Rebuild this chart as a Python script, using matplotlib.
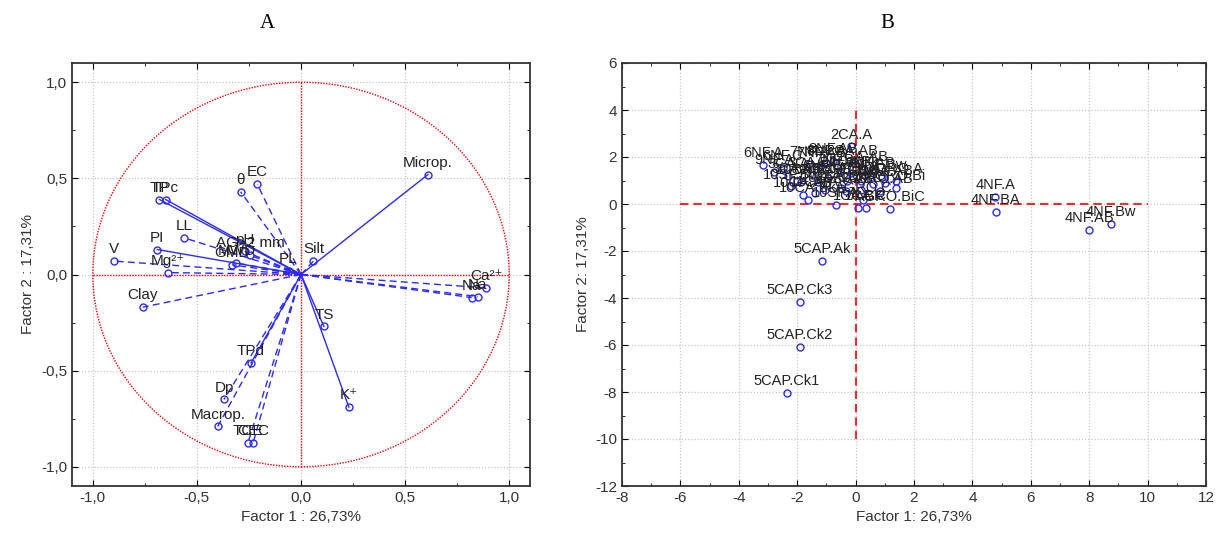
import matplotlib.pyplot as plt
from matplotlib.patches import Circle
from matplotlib.ticker import MultipleLocator, FuncFormatter

plt.rcParams['font.family'] = ['Liberation Sans', 'DejaVu Sans']
plt.rcParams['font.size'] = 11
plt.rcParams['axes.unicode_minus'] = False

# --- panel A: variable loadings on factor 1 / factor 2
var_names = ['Microp.', 'Ca²⁺', 'Na', 'Na', 'TS', 'K⁺', 'TPd', 'Dp', 'Macrop.',
             'TCE', 'CEC', 'PL', 'Silt', 'θ', 'EC', 'TP', 'TPc', 'LL', 'PI',
             'V', 'Mg²⁺', 'Clay', 'pH', 'AG>2 mm', 'GMD', 'MWD']
var_f1 = [0.61, 0.89, 0.82, 0.85, 0.11, 0.23, -0.24, -0.37, -0.40,
          -0.255, -0.23, -0.06, 0.06, -0.29, -0.21, -0.68, -0.65, -0.56, -0.69,
          -0.90, -0.64, -0.76, -0.27, -0.245, -0.33, -0.31]
var_f2 = [0.52, -0.07, -0.12, -0.115, -0.27, -0.69, -0.46, -0.65, -0.79,
          -0.875, -0.875, 0.02, 0.07, 0.43, 0.47, 0.39, 0.39, 0.19, 0.13,
          0.07, 0.01, -0.17, 0.12, 0.10, 0.05, 0.06]
solid_vars = {'Microp.', 'TS', 'K⁺', 'TPd', 'TP', 'TPc', 'PI', 'PL'}

# --- panel B: case scores
case_names = ['2CA.A', '2CA.AB', '6NF.A', '9NF.A', '7NF.A', '7NF.AB', '8NF.A', '8NF.AB',
              '1CA.AB', 'AGRO.A', 'AGRO.Bi', 'AGRO.BiC', '10CA.A', '10CA.AB', '10CA.Bk',
              '10SF.A', '10SF.AB', '1CA.A', '1CA.Bk', '1CA.C', 'AGRO.AB', 'AGRO.C',
              '3CA.A', '3CA.AB', '3CA.Bk', '6NF.AB', '6NF.Bw', '7NF.Bw', '8NF.Bw',
              '9NF.AB', '9NF.Bw', '10SF.Bw', '10SF.C', '2CA.Bk', '2CA.C', '3CA.C',
              '11CA.A', '11CA.AB', '11CA.Bk', '6NF.C',
              '5CAP.Ak', '5CAP.Ck3', '5CAP.Ck2', '5CAP.Ck1',
              '4NF.A', '4NF.BA', '4NF.AB', '4NF.Bw']
case_f1 = [-0.15, -0.10, -3.17, -2.80, -1.60, -1.19, -1.02, -0.78,
           0.24, 1.37, 1.37, 1.19, -1.88, -1.81, -1.64,
           -0.68, -0.34, 0.17, 0.07, 0.34, 0.85, 0.27,
           -2.30, -2.00, -1.50, -1.30, -0.95, -0.55, -0.30,
           0.50, 0.90, -2.20, -1.05, -0.50, 0.20, 0.60,
           -1.40, 1.00, -0.15, -2.50,
           -1.16, -1.91, -1.91, -2.35,
           4.78, 4.80, 8.00, 8.74]
case_f2 = [2.45, 1.74, 1.65, 1.36, 1.69, 1.65, 1.74, 1.82,
           1.48, 0.97, 0.68, -0.21, 0.93, 0.38, 0.17,
           -0.04, 0.55, 0.97, -0.17, -0.17, 0.55, 0.17,
           1.20, 1.00, 1.25, 0.95, 1.10, 1.35, 1.00,
           1.25, 1.15, 0.75, 0.60, 0.70, 0.60, 0.85,
           0.45, 0.90, 1.30, 1.55,
           -2.42, -4.15, -6.10, -8.05,
           0.30, -0.35, -1.10, -0.85]

blue = '#2a2aff'
grid_kw = dict(color='#c8c8c8', linestyle=(0, (1, 1.5)), linewidth=0.9)
comma = FuncFormatter(lambda v, p: f'{v:.1f}'.replace('.', ','))

fig = plt.figure(figsize=(12.18, 5.38), dpi=100)
axA = fig.add_axes([72 / 1218, 52 / 538, 458 / 1218, 423 / 538])
axB = fig.add_axes([622 / 1218, 52 / 538, 584 / 1218, 423 / 538])

for ax in (axA, axB):
    ax.grid(True, **grid_kw)
    ax.set_axisbelow(True)
    ax.tick_params(which='both', direction='in', top=True, right=True,
                   labelcolor='#333333', labelsize=11)
    ax.tick_params(which='major', length=4)
    ax.tick_params(which='minor', length=2.5)
    for s in ax.spines.values():
        s.set_linewidth(1.3)
        s.set_color('#333333')

# panel A
axA.set_xlim(-1.1, 1.1)
axA.set_ylim(-1.1, 1.1)
axA.xaxis.set_major_locator(MultipleLocator(0.5))
axA.yaxis.set_major_locator(MultipleLocator(0.5))
axA.xaxis.set_minor_locator(MultipleLocator(0.25))
axA.yaxis.set_minor_locator(MultipleLocator(0.25))
axA.xaxis.set_major_formatter(comma)
axA.yaxis.set_major_formatter(comma)
axA.add_patch(Circle((0, 0), 1, fill=False, color='red', linestyle=(0, (1, 1)), linewidth=1))
axA.plot([-1, 1], [0, 0], color='red', linestyle=(0, (1, 1)), linewidth=1)
axA.plot([0, 0], [-1, 1], color='red', linestyle=(0, (1, 1)), linewidth=1)
for n, x, y in zip(var_names, var_f1, var_f2):
    ls = '-' if n in solid_vars else (0, (5, 3))
    axA.plot([0, x], [0, y], color=blue, linestyle=ls, linewidth=1)
    axA.plot(x, y, 'o', mfc='none', mec=blue, ms=5, mew=1)
    axA.annotate(n, (x, y), xytext=(0, 3.5), textcoords='offset points',
                 ha='center', va='bottom', fontsize=11, color='#222222')
axA.set_xlabel('Factor 1 : 26,73%', color='#333333', fontsize=11)
axA.set_ylabel('Factor 2 : 17,31%', color='#333333', fontsize=11)

# panel B
axB.set_xlim(-8, 12)
axB.set_ylim(-12, 6)
axB.xaxis.set_major_locator(MultipleLocator(2))
axB.yaxis.set_major_locator(MultipleLocator(2))
axB.xaxis.set_minor_locator(MultipleLocator(1))
axB.yaxis.set_minor_locator(MultipleLocator(1))
axB.plot([-6, 10], [0, 0], color='red', linestyle=(0, (5, 3)), linewidth=1.2)
axB.plot([0, 0], [-10, 4], color='red', linestyle=(0, (5, 3)), linewidth=1.2)
axB.plot(case_f1, case_f2, 'o', mfc='none', mec=blue, ms=5, mew=1)
for n, x, y in zip(case_names, case_f1, case_f2):
    axB.annotate(n, (x, y), xytext=(0, 3.5), textcoords='offset points',
                 ha='center', va='bottom', fontsize=10.5, color='#222222')
axB.set_xlabel('Factor 1: 26,73%', color='#333333', fontsize=11)
axB.set_ylabel('Factor 2: 17,31%', color='#333333', fontsize=11)

fig.text(267 / 1218, 1 - 23 / 538, 'A', family='Liberation Serif', fontsize=15,
         ha='center', va='center')
fig.text(887 / 1218, 1 - 23 / 538, 'B', family='Liberation Serif', fontsize=15,
         ha='center', va='center')

fig.savefig('out.png', dpi=100)
